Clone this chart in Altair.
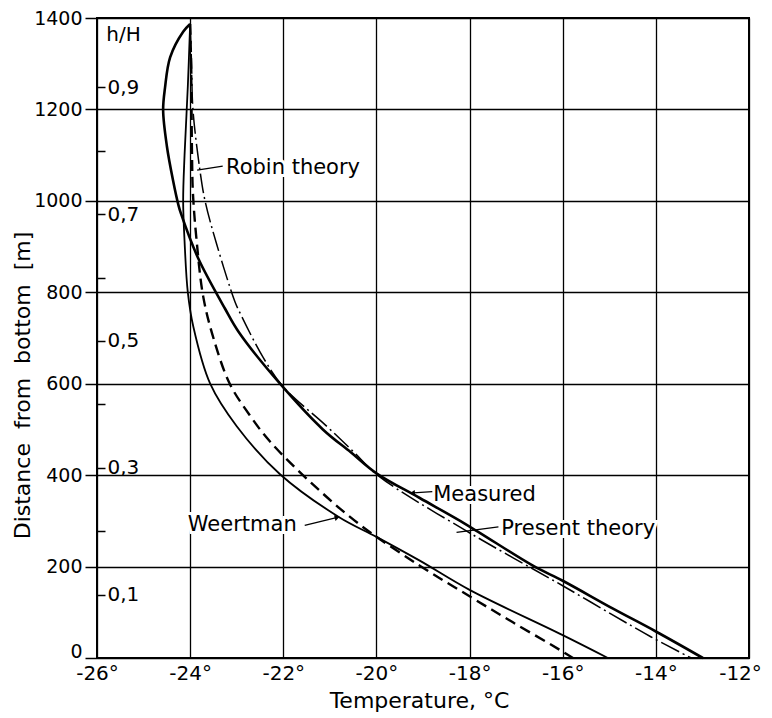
import altair as alt
import pandas as pd

# ---------------- data ----------------
H_ICE = 1387          # ice thickness, m (h/H reference)
T_DOMAIN = [-26, -12]
Z_DOMAIN = [0, 1400]
x_ticks = [-26, -24, -22, -20, -18, -16, -14, -12]
y_ticks = [0, 200, 400, 600, 800, 1000, 1200, 1400]
hh_ticks = [0.1, 0.2, 0.3, 0.4, 0.5, 0.6, 0.7, 0.8, 0.9]

measured_T = [-24.0, -24.15, -24.43, -24.54, -24.58, -24.50, -24.37, -24.25, -24.2,
              -23.83, -23.25, -22.95, -22.07, -21.15, -20.55, -20.0, -19.07, -18.07,
              -16.64, -16.0, -14.92, -14.0, -12.99]
measured_z = [1387, 1370, 1314, 1247, 1198, 1120, 1046, 990, 973,
              875, 764, 712, 600, 500, 450, 404, 350, 292,
              202, 169, 108, 58, 0]

present_T = [-24.0, -23.97, -23.94, -23.79, -23.68, -23.43, -23.04, -22.93, -22.43,
             -22.0, -21.1, -20.5, -19.95, -18.07, -16.0, -14.1, -13.24]
present_z = [1387, 1300, 1200, 1067, 1000, 905, 780, 755, 657,
             593, 510, 452, 398, 278, 158, 46, 0]

robin_T = [-24.0, -23.98, -23.97, -23.96, -23.94, -23.86, -23.72, -23.50, -23.15,
           -22.72, -22.29, -21.4, -20.36, -19.07, -18.0, -17.07, -16.0, -15.78]
robin_z = [1387, 1300, 1200, 1100, 1016, 912, 791, 700, 600,
           531, 474, 383, 292, 202, 135, 78, 14, 0]

weertman_T = [-24.0, -24.05, -24.12, -24.15, -24.12, -24.05, -23.93, -23.57, -23.0,
              -22.07, -20.8, -20.0, -19.07, -18.0, -16.0, -15.03]
weertman_z = [1387, 1250, 1100, 1000, 912, 800, 724, 600, 507,
              402, 308, 265, 213, 149, 50, 0]

ann_labels = ["Robin theory", "Weertman", "Measured", "Present theory"]
ann_T = [-23.23, -24.05, -18.78, -17.32]
ann_z = [1072, 292, 357, 282]

lead_T = [-23.85, -21.54, -19.21, -18.28]
lead_z = [1067, 290, 361, 275]
lead_T2 = [-23.30, -20.86, -18.80, -17.38]
lead_z2 = [1076, 307, 364, 287]

arrow_T = [-20.86, -19.21]
arrow_z = [307, 361]
arrow_angle = [75, 266]

# ---------------- tables ----------------
def series_df(name, T, z):
    return pd.DataFrame({"series": name, "T": T, "z": z, "i": list(range(len(T)))})

curves = pd.concat([
    series_df("Measured", measured_T, measured_z),
    series_df("Present theory", present_T, present_z),
    series_df("Robin theory", robin_T, robin_z),
    series_df("Weertman", weertman_T, weertman_z),
], ignore_index=True)

ann_df = pd.DataFrame({"label": ann_labels, "T": ann_T, "z": ann_z})
lead_df = pd.DataFrame({"T": lead_T, "z": lead_z, "T2": lead_T2, "z2": lead_z2})
arrow_df = pd.DataFrame({"T": arrow_T, "z": arrow_z, "ang": arrow_angle})
hh_df = pd.DataFrame({"hH": hh_ticks, "T": [T_DOMAIN[0]] * len(hh_ticks)})

# ---------------- scales & axes ----------------
FONT = "DejaVu Sans"
W, H = 652, 640

xs = alt.Scale(domain=T_DOMAIN, nice=False, zero=False)
ys = alt.Scale(domain=Z_DOMAIN, nice=False, zero=False)

xaxis = alt.Axis(values=x_ticks, labelExpr="'-' + abs(datum.value) + '°'",
                 ticks=False, domain=False, grid=True, gridColor="black",
                 gridWidth=1.3, gridOpacity=1, labelFont=FONT, labelFontSize=20,
                 labelColor="black", labelPadding=5, labelFlush=False,
                 labelOffset={"condition": {"test": "datum.value === -12", "value": -9},
                              "value": 0},
                 labelOverlap=False, title="Temperature, °C", titleFont=FONT,
                 titleFontSize=22, titleFontWeight="normal", titleColor="black",
                 titleX=322, titleY=42, titleAlign="center", titleBaseline="middle")

yaxis = alt.Axis(values=y_ticks, format="d", tickSize=12, tickColor="black",
                 tickWidth=1.5, domain=False, grid=True, gridColor="black",
                 gridWidth=1.3, gridOpacity=1, labelFont=FONT, labelFontSize=19,
                 labelColor="black", labelPadding=3, labelFlush=False,
                 labelOffset={"condition": {"test": "datum.value === 0", "value": -7},
                              "value": 0},
                 labelOverlap=False,
                 title="Distance\u00a0 from\u00a0 bottom\u00a0 [m]",
                 titleFont=FONT, titleFontSize=22, titleFontWeight="normal",
                 titleColor="black", titleAngle=270, titleX=-75, titleY=367,
                 titleAlign="center", titleBaseline="middle")

hh_axis = alt.Axis(orient="right", offset=-W, values=hh_ticks,
                   labelExpr="round(datum.value*10) % 2 == 1 ? replace(format(datum.value, '.1f'), '.', ',') : ''",
                   tickSize=8, tickColor="black", tickWidth=1.5, domain=False,
                   grid=False, labelFont=FONT, labelFontSize=20, labelColor="black",
                   labelPadding=2, labelFlush=False, labelOverlap=False,
                   title="h/H", titleFont=FONT, titleFontSize=20,
                   titleFontWeight="normal", titleColor="black", titleAngle=0,
                   titleX=26, titleY=16, titleAlign="center", titleBaseline="middle")

X = alt.X("T:Q", scale=xs, axis=xaxis)
Y = alt.Y("z:Q", scale=ys, axis=yaxis)

base = alt.Chart(curves).encode(x=X, y=Y, order=alt.Order("i:Q"))

def curve(name, **kw):
    return base.transform_filter(alt.datum.series == name).mark_line(
        color="black", interpolate="catmull-rom", **kw)

measured = curve("Measured", strokeWidth=2.6)
weertman = curve("Weertman", strokeWidth=1.8)
robin = curve("Robin theory", strokeWidth=2.4, strokeDash=[11, 6])
present = curve("Present theory", strokeWidth=1.5, strokeDash=[20, 4, 2, 4])

halo = alt.Chart(ann_df).mark_text(align="left", baseline="middle", font=FONT,
                                   fontSize=21, stroke="white", strokeWidth=6,
                                   color="white").encode(x=X, y=Y, text="label:N")
texts = alt.Chart(ann_df).mark_text(align="left", baseline="middle", font=FONT,
                                    fontSize=21, color="black").encode(x=X, y=Y, text="label:N")
leaders = alt.Chart(lead_df).mark_rule(color="black", strokeWidth=1.3).encode(
    x=X, y=Y, x2="T2:Q", y2="z2:Q")
arrows = alt.Chart(arrow_df).mark_point(shape="triangle", filled=True, size=35,
                                        color="black", opacity=1).encode(
    x=X, y=Y, angle=alt.Angle("ang:Q", scale=None))

main = alt.layer(halo, weertman, robin, present, measured, leaders, arrows, texts)

hh = alt.Chart(hh_df).mark_point(opacity=0).encode(
    x=X,
    y=alt.Y("hH:Q", scale=alt.Scale(domain=[0, Z_DOMAIN[1] / H_ICE], nice=False, zero=False),
            axis=hh_axis))

chart = alt.layer(main, hh).resolve_scale(y="independent").properties(
    width=W, height=H,
    autosize=alt.AutoSizeParams(type="none"),
    padding={"left": 89, "top": 10, "right": 15, "bottom": 56},
    background="white",
).configure_view(stroke="black", strokeWidth=2)

chart.save("out.html", embed_options={"renderer": "svg", "actions": False})
